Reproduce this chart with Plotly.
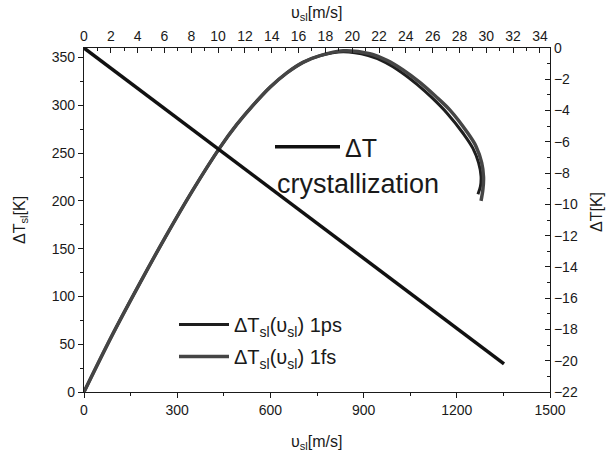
import plotly.graph_objects as go

# Solid-liquid interface: undercooling vs interface velocity
v_1ps = [0, 90, 180, 260, 348, 438, 492, 544, 599, 653, 705, 760, 834, 915, 970,
         1020, 1072, 1120, 1168, 1222, 1252, 1270, 1278, 1276, 1268]
dT_1ps = [0, 59, 114, 161, 210, 256, 280, 300, 319, 334, 345, 352, 356, 352, 345,
          335, 322, 308, 292, 270, 255, 240, 226, 215, 207]

v_1fs = [0, 90, 180, 260, 348, 438, 492, 544, 599, 653, 705, 760, 834, 920, 975,
         1027, 1081, 1130, 1178, 1233, 1262, 1280, 1286, 1284, 1278]
dT_1fs = [0, 59, 114, 161, 210, 256, 280, 300, 319, 334, 345, 352, 357, 354, 347,
          337, 324, 310, 295, 272, 257, 240, 225, 212, 200]

# Crystallization undercooling (right axis)
v_cryst = [0, 1352]
dT_cryst = [0, -20.2]

FONT = "Liberation Sans, Arial, sans-serif"
INK = "#1a1a1a"

fig = go.Figure()
fig.add_trace(go.Scatter(
    x=v_1ps, y=dT_1ps, mode="lines", line=dict(color="#1e1e1e", width=3, shape="spline"),
    name="ΔT<sub>sl</sub>(υ<sub>sl</sub>) 1ps", legendgroup="a", legend="legend"))
fig.add_trace(go.Scatter(
    x=v_1fs, y=dT_1fs, mode="lines", line=dict(color="#454545", width=3.5, shape="spline"),
    name="ΔT<sub>sl</sub>(υ<sub>sl</sub>) 1fs", legendgroup="b", legend="legend"))
fig.add_trace(go.Scatter(
    x=v_cryst, y=dT_cryst, yaxis="y2", mode="lines", line=dict(color="#111111", width=3.5),
    name="ΔT", legend="legend2"))
# empty trace so the top velocity axis gets its own subplot and is drawn
fig.add_trace(go.Scatter(x=[None], y=[None], xaxis="x2", showlegend=False,
                         hoverinfo="skip"))

title_font = dict(family=FONT, size=16, color=INK)
# axis titles (plot area spans x 84..550 px, y 48..392 px)
fig.add_annotation(text="υ<sub>sl</sub>[m/s]", xref="paper", yref="paper",
                   x=0.5, y=1 + (48 - 13) / 344, xanchor="center", yanchor="middle",
                   showarrow=False, font=title_font)
fig.add_annotation(text="υ<sub>sl</sub>[m/s]", xref="paper", yref="paper",
                   x=0.5, y=-(442 - 392) / 344, xanchor="center", yanchor="middle",
                   showarrow=False, font=title_font)
fig.add_annotation(text="ΔT<sub>sl</sub>[K]", xref="paper", yref="paper",
                   x=-(84 - 20) / 466, y=0.5, xanchor="center", yanchor="middle",
                   textangle=-90, showarrow=False, font=title_font)
fig.add_annotation(text="ΔT[K]", xref="paper", yref="paper",
                   x=(596 - 84) / 466, y=(392 - 212) / 344, xanchor="center",
                   yanchor="middle", textangle=-90, showarrow=False, font=title_font)

fig.add_annotation(text="crystallization", xref="paper", yref="paper",
                   x=(275 - 84) / 466, y=(392 - 184) / 344, xanchor="left", yanchor="middle",
                   showarrow=False, font=dict(family=FONT, size=27, color=INK))

axis_common = dict(showline=True, linecolor=INK, linewidth=1.3, tickcolor=INK,
                   tickwidth=1.3, showgrid=False, zeroline=False, automargin=False,
                   tickfont=dict(family=FONT, size=14, color=INK))

fig.update_layout(
    width=613, height=452,
    margin=dict(l=84, r=63, t=48, b=60),
    paper_bgcolor="white", plot_bgcolor="white",
    xaxis=dict(range=[0, 1500], dtick=300, ticks="outside", ticklen=5,
               minor=dict(dtick=150, ticks="outside", ticklen=3, tickcolor=INK),
               **axis_common),
    xaxis2=dict(range=[0, 34.75], dtick=2, overlaying="x", side="top", anchor="y",
                ticks="inside", ticklen=5,
                minor=dict(dtick=1, ticks="inside", ticklen=3, tickcolor=INK),
                **axis_common),
    yaxis=dict(range=[0, 360], dtick=50, ticks="outside", ticklen=5,
               minor=dict(dtick=25, ticks="outside", ticklen=3, tickcolor=INK),
               **axis_common),
    yaxis2=dict(range=[-22, 0], dtick=2, overlaying="y", side="right", anchor="x",
                ticks="inside", ticklen=5,
                minor=dict(dtick=1, ticks="inside", ticklen=3, tickcolor=INK),
                **axis_common),
    legend=dict(x=(174 - 84) / 466, y=(392 - 305) / 344, xanchor="left", yanchor="top",
                bgcolor="rgba(0,0,0,0)", itemwidth=50, tracegroupgap=3,
                traceorder="grouped",
                font=dict(family=FONT, size=20, color=INK)),
    legend2=dict(x=(270 - 84) / 466, y=(392 - 124) / 344, xanchor="left", yanchor="top",
                 bgcolor="rgba(0,0,0,0)", itemwidth=65,
                 font=dict(family=FONT, size=25, color=INK)),
    showlegend=True,
)

fig.write_html("out.html")
